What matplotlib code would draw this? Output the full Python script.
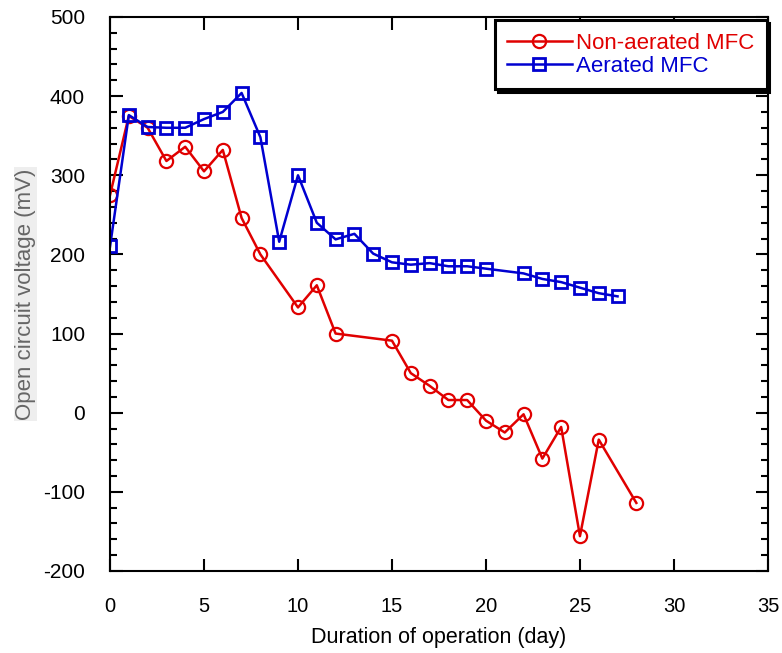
import matplotlib
matplotlib.use("Agg")
from matplotlib import pyplot as plt
from matplotlib.ticker import MultipleLocator

plt.rcParams['font.family'] = ['Liberation Sans', 'DejaVu Sans']
plt.rcParams['axes.unicode_minus'] = False

# Non-aerated MFC (open circuit voltage, mV)
dias_no = [0, 1, 2, 3, 4, 5, 6, 7, 8, 10, 11, 12, 15, 16, 17, 18, 19, 20, 21, 22, 23, 24, 25, 26, 28]
volt_no = [275, 375, 360, 318, 336, 305, 332, 246, 200, 133, 161, 100, 91, 50, 34, 16, 16, -10, -25, -2, -58, -18, -156, -34, -114]

# Aerated MFC
dias_ae = [0, 1, 2, 3, 4, 5, 6, 7, 8, 9, 10, 11, 12, 13, 14, 15, 16, 17, 18, 19, 20, 22, 23, 24, 25, 26, 27]
volt_ae = [210, 376, 361, 360, 360, 371, 380, 404, 348, 216, 300, 240, 219, 226, 201, 190, 187, 189, 185, 185, 182, 176, 169, 165, 158, 151, 147]

rojo = '#e00000'
azul = '#0000d0'

fig = plt.figure(figsize=(7.82, 6.53), dpi=100)
ax = fig.add_axes([0.1407, 0.1256, 0.8413, 0.8484])

ax.plot(dias_no, volt_no, color=rojo, lw=1.8, marker='o', ms=9.5, mfc='none',
        mec=rojo, mew=1.6, label='Non-aerated MFC')
ax.plot(dias_ae, volt_ae, color=azul, lw=1.8, marker='s', ms=9, mfc='none',
        mec=azul, mew=2, label='Aerated MFC')

ax.set_xlim(0, 35)
ax.set_ylim(-200, 500)
ax.xaxis.set_major_locator(MultipleLocator(5))
ax.yaxis.set_major_locator(MultipleLocator(100))
ax.yaxis.set_minor_locator(MultipleLocator(20))
ax.tick_params(which='both', direction='in', top=True, right=True, width=1.5)
ax.tick_params(which='major', length=9)
ax.tick_params(which='minor', length=5)
ax.tick_params(axis='x', which='minor', bottom=False, top=False)
ax.tick_params(axis='y', pad=18, labelsize=15)
ax.tick_params(axis='x', pad=19, labelsize=14.5)
for s in ax.spines.values():
    s.set_linewidth(1.5)

ax.set_xlabel('Duration of operation (day)', fontsize=15.5, labelpad=8)
ax.set_ylabel('Open circuit voltage (mV)', fontsize=16, color='#666666', labelpad=5,
              family=['Liberation Sans Narrow', 'Liberation Sans'],
              bbox=dict(facecolor='#eeeeee', edgecolor='none', pad=1))

leg = ax.legend(loc='upper right', bbox_to_anchor=(0.998, 0.994), fontsize=16,
                fancybox=False, framealpha=1, edgecolor='black', handlelength=2.9,
                handletextpad=0.2, borderaxespad=0, labelspacing=0.1,
                borderpad=0.55, shadow={'color': 'black', 'alpha': 1})
leg.get_frame().set_linewidth(2.2)
leg.get_texts()[0].set_color(rojo)
leg.get_texts()[1].set_color(azul)

fig.savefig('out.png', dpi=100)
